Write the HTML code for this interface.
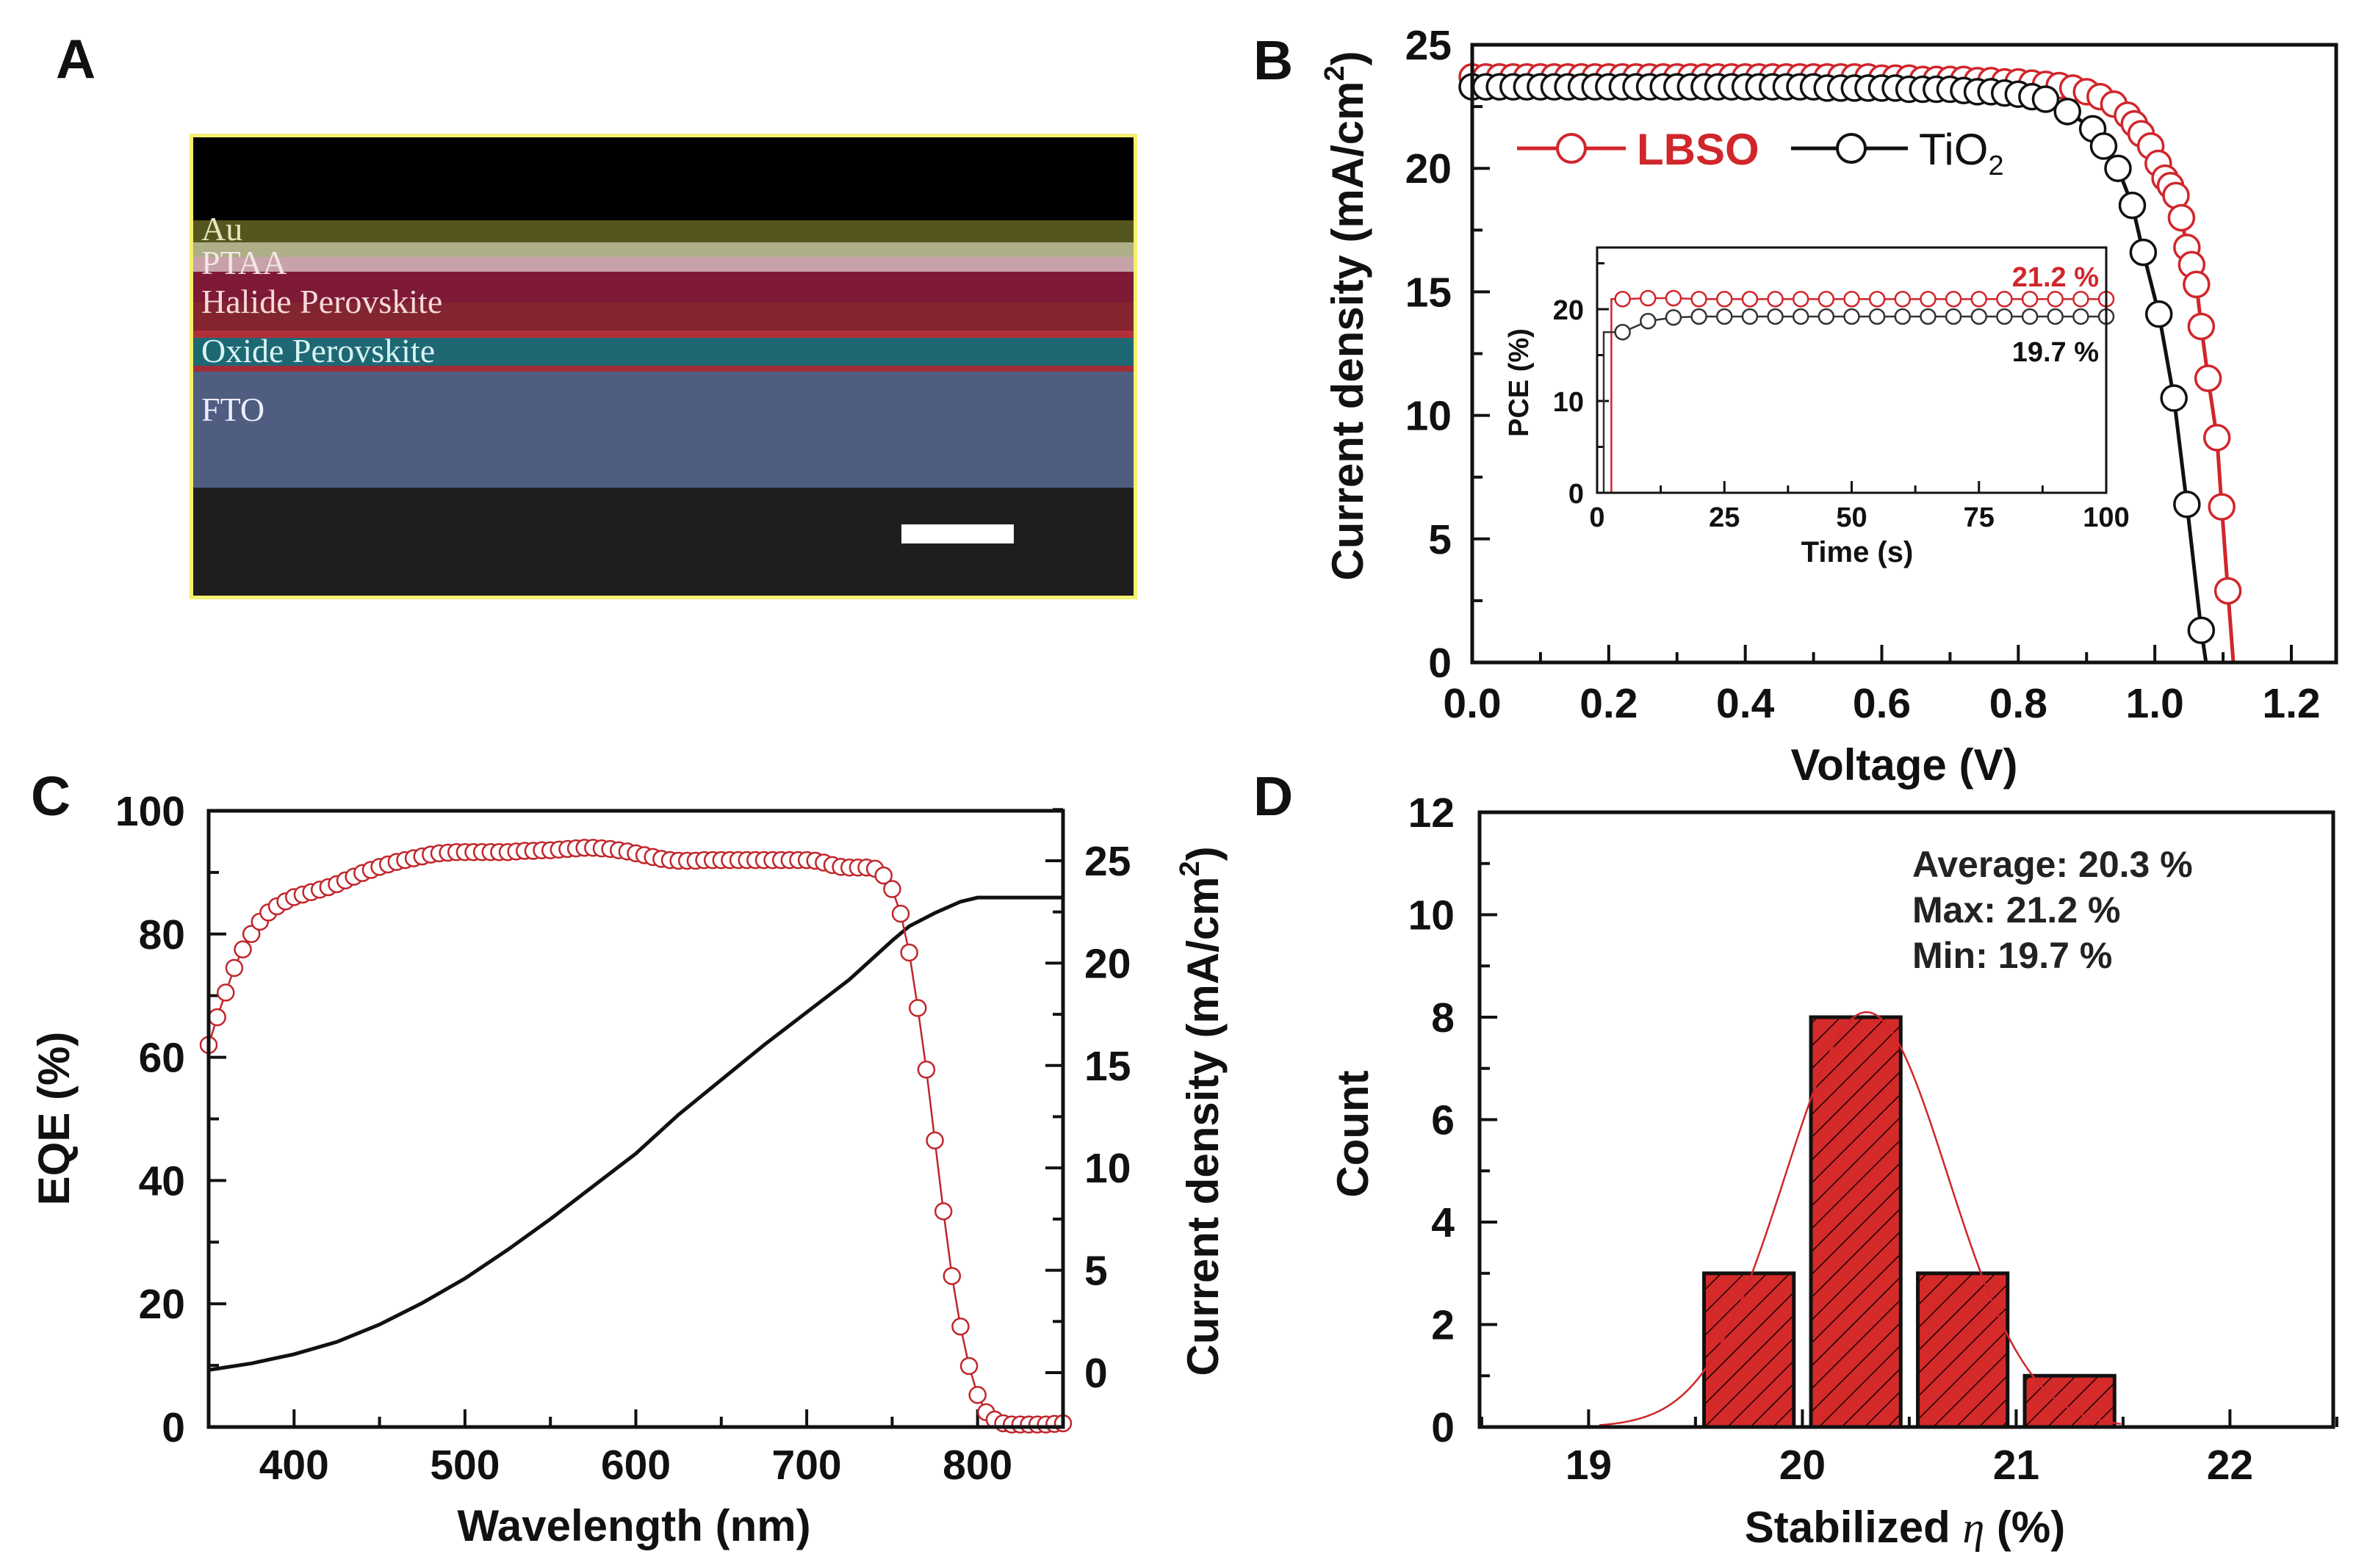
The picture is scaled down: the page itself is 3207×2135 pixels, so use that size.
<!DOCTYPE html>
<html><head><meta charset="utf-8"><style>
html,body{margin:0;padding:0;background:#fff;}
svg{display:block;font-family:"Liberation Sans",Arial,sans-serif;font-weight:bold;}
</style></head><body>
<svg id="fig" width="3207" height="2135" viewBox="0 0 3207 2135" xmlns="http://www.w3.org/2000/svg">
<defs>
<pattern id="hatch" patternUnits="userSpaceOnUse" width="22" height="22" patternTransform="rotate(45)">
<rect width="22" height="22" fill="#d42a2a"/>
<line x1="0" y1="0" x2="0" y2="22" stroke="#1a0000" stroke-width="3"/>
</pattern>
</defs>
<!-- Panel A -->
<g>
<text x="76" y="106" font-size="75" fill="#111">A</text>
<rect x="258" y="182" width="1290" height="634" fill="#f4f070"/>
<rect x="263" y="187" width="1280" height="114" fill="#000"/>
<rect x="263" y="300" width="1280" height="32" fill="#55561e"/>
<rect x="263" y="330" width="1280" height="20" fill="#aeae88"/>
<rect x="263" y="350" width="1280" height="20" fill="#c7a2a8"/>
<rect x="263" y="370" width="1280" height="82" fill="#7e1a36"/>
<rect x="263" y="412" width="1280" height="40" fill="#842830" opacity="0.8"/>
<rect x="263" y="450" width="1280" height="10" fill="#b0303a"/>
<rect x="263" y="460" width="1280" height="40" fill="#1e6874"/>
<rect x="263" y="498" width="1280" height="8" fill="#a02c3a"/>
<rect x="263" y="506" width="1280" height="160" fill="#4e5d80"/>
<rect x="263" y="664" width="1280" height="147" fill="#1f1e1e"/>
<rect x="1227" y="714" width="153" height="26" fill="#fff"/>
<g font-family="'Liberation Serif',serif" font-weight="normal" font-size="46">
<text x="274" y="327" fill="#e6e6c0">Au</text>
<text x="274" y="373" fill="#f4e4ea">PTAA</text>
<text x="274" y="426" fill="#f6dada">Halide Perovskite</text>
<text x="274" y="493" fill="#d8f4f4">Oxide Perovskite</text>
<text x="274" y="573" fill="#eef">FTO</text>
</g>
</g>
<g id="pB"></g>
<g id="pC"></g>
<g id="pD"></g>
</svg>
<script>
// ---------- Panel B data ----------
const lbsoV = [0,0.02,0.04,0.06,0.08,0.10,0.12,0.14,0.16,0.18,0.20,0.22,0.24,0.26,0.28,0.30,0.32,0.34,0.36,0.38,0.40,0.42,0.44,0.46,0.48,0.50,0.52,0.54,0.56,0.58,0.60,0.62,0.64,0.66,0.68,0.70,0.72,0.74,0.76,0.78,0.80,0.82,0.84,0.86,0.88,0.90,0.92,0.94,0.96,0.97,0.98,0.994,1.005,1.015,1.023,1.031,1.039,1.047,1.054,1.061,1.068,1.078,1.091,1.098,1.107];
const lbsoJ = [23.7,23.7,23.7,23.7,23.7,23.7,23.7,23.7,23.7,23.7,23.7,23.7,23.7,23.7,23.7,23.7,23.7,23.7,23.7,23.7,23.7,23.7,23.7,23.7,23.7,23.7,23.7,23.7,23.7,23.7,23.65,23.65,23.65,23.6,23.6,23.6,23.6,23.55,23.55,23.5,23.5,23.45,23.4,23.35,23.25,23.1,22.9,22.6,22.15,21.8,21.4,20.9,20.2,19.6,19.3,18.9,18.0,16.8,16.1,15.3,13.6,11.5,9.1,6.3,2.9];
const lbsoVoc = 1.115;
const tioV = [0,0.02,0.04,0.06,0.08,0.10,0.12,0.14,0.16,0.18,0.20,0.22,0.24,0.26,0.28,0.30,0.32,0.34,0.36,0.38,0.40,0.42,0.44,0.46,0.48,0.50,0.52,0.54,0.56,0.58,0.60,0.62,0.64,0.66,0.68,0.70,0.72,0.74,0.76,0.78,0.80,0.82,0.84,0.872,0.909,0.925,0.946,0.967,0.983,1.006,1.028,1.047,1.068];
const tioJ = [23.3,23.3,23.3,23.3,23.3,23.3,23.3,23.3,23.3,23.3,23.3,23.3,23.3,23.3,23.3,23.3,23.3,23.3,23.3,23.3,23.3,23.3,23.3,23.3,23.3,23.3,23.25,23.25,23.25,23.25,23.25,23.25,23.2,23.2,23.2,23.2,23.15,23.1,23.1,23.05,23.0,22.9,22.8,22.3,21.6,20.9,20.0,18.5,16.6,14.1,10.7,6.4,1.3];
const tioVoc = 1.075;
const bXTicks = [0,0.2,0.4,0.6,0.8,1.0,1.2];
const bXLabels = ["0.0","0.2","0.4","0.6","0.8","1.0","1.2"];
const bYTicks = [0,5,10,15,20,25];
// inset
const insetT = [5,10,15,20,25,30,35,40,45,50,55,60,65,70,75,80,85,90,95,100];
const insetLbso = [21.1,21.2,21.2,21.1,21.1,21.1,21.1,21.1,21.1,21.1,21.1,21.1,21.1,21.1,21.1,21.1,21.1,21.1,21.1,21.1];
const insetTio = [17.5,18.7,19.1,19.2,19.2,19.2,19.2,19.2,19.2,19.2,19.2,19.2,19.2,19.2,19.2,19.2,19.2,19.2,19.2,19.2];
const insetLbsoStart = 2.8;
const insetTioStart = 1.3;
const insetXTicks = [0,25,50,75,100];
const insetYTicks = [0,10,20];
// ---------- Panel C data ----------
const eqeNm = [350,355,360,365,370,375,380,385,390,395,400,405,410,415,420,425,430,435,440,445,450,455,460,465,470,475,480,485,490,495,500,505,510,515,520,525,530,535,540,545,550,555,560,565,570,575,580,585,590,595,600,605,610,615,620,625,630,635,640,645,650,655,660,665,670,675,680,685,690,695,700,705,710,715,720,725,730,735,740,745,750,755,760,765,770,775,780,785,790,795,800,805,810,815,820,825,830,835,840,845,850];
const eqeVal = [62,66.5,70.5,74.5,77.5,80,82,83.5,84.5,85.3,86,86.4,86.8,87.2,87.6,88.1,88.7,89.3,89.9,90.4,90.9,91.3,91.7,92,92.3,92.6,92.9,93.1,93.2,93.3,93.3,93.3,93.3,93.3,93.3,93.3,93.4,93.5,93.5,93.6,93.6,93.7,93.8,93.9,94,94,93.9,93.8,93.6,93.4,93.1,92.8,92.5,92.2,92,91.9,91.9,91.9,92,92,92,92,92,92,92,92,92,92,92,92,92,91.9,91.6,91.2,90.9,90.8,90.8,90.8,90.6,89.5,87.3,83.3,77,68,58,46.5,35,24.5,16.3,9.9,5.2,2.4,1.2,0.6,0.4,0.4,0.4,0.4,0.4,0.5,0.6];
const jscNm = [350,375,400,425,450,475,500,525,550,575,600,625,650,675,700,725,750,760,775,790,800,850];
const jscVal = [0.13,0.45,0.9,1.5,2.35,3.4,4.6,6.0,7.5,9.1,10.7,12.6,14.3,16.0,17.6,19.2,21.1,21.8,22.45,23.0,23.2,23.2];
const cXTicks = [400,500,600,700,800];
const cYTicks = [0,20,40,60,80,100];
const cY2Ticks = [0,5,10,15,20,25];
// ---------- Panel D data ----------
const binCenters = [19.75,20.25,20.75,21.25];
const binCounts = [3,8,3,1];
const binWidth = 0.42;
const fitMean = 20.3;
const fitSigma = 0.38;
const fitAmp = 8.1;
const dXTicks = [19,20,21,22];
const dYTicks = [0,2,4,6,8,10,12];
const statsLines = ["Average: 20.3 %","Max: 21.2 %","Min: 19.7 %"];

const NS = "http://www.w3.org/2000/svg";
function mk(tag, attrs, parent){const e=document.createElementNS(NS,tag);for(const k in attrs)e.setAttribute(k,attrs[k]);parent.appendChild(e);return e;}
function txt(s, attrs, parent){const e=mk('text',attrs,parent);e.textContent=s;return e;}

// ===== Panel B =====
const gB = document.getElementById('pB');
const xB = v => 2004 + v*(3119-2004)/1.2;
const yB = j => 902 - j*(841/25);
let t;
t = txt("B",{x:1706,y:108,"font-size":75,fill:"#111"},gB);


for(let v=0; v<=1.25; v+=0.1){const maj=Math.abs(v/0.2-Math.round(v/0.2))<0.01;
 const l=mk('line',{x1:xB(v),x2:xB(v),y1:902,y2:902-(maj?24:14),stroke:"#111","stroke-width":4},gB);
 
 }
for(let j=0;j<=25;j+=2.5){const maj=(j%5===0);
 const l=mk('line',{x1:2004,x2:2004+(maj?24:14),y1:yB(j),y2:yB(j),stroke:"#111","stroke-width":4},gB);
 
 }
bXTicks.forEach((v,i)=>{const e=txt(bXLabels[i],{x:xB(v),y:977,"font-size":57,"text-anchor":"middle",fill:"#111"},gB);
 
 });
bYTicks.forEach(v=>{const e=txt(String(v),{x:1976,y:yB(v)+20,"font-size":57,"text-anchor":"end",fill:"#111"},gB);
 
 });
t=txt("Voltage (V)",{x:2592,y:1062,"font-size":60,"text-anchor":"middle",fill:"#111"},gB);


t=mk('text',{transform:"translate(1855,430) rotate(-90)","font-size":60,"text-anchor":"middle",fill:"#111"},gB);
t.innerHTML='Current density (mA/cm<tspan dy="-26" font-size="38">2</tspan><tspan dy="26">)</tspan>';


function curve(V,J,voc,color,r,parentName){
 const g=mk('g',{},gB);
 
 
 let d=V.map((v,i)=>(i?'L':'M')+xB(v)+','+yB(J[i])).join(' ')+' L'+xB(voc)+','+yB(0);
 const p=mk('path',{d:d,fill:"none",stroke:color,"stroke-width":5},g);
 
 
 V.forEach((v,i)=>{const c=mk('circle',{cx:xB(v),cy:yB(J[i]),r:r,fill:"#fff",stroke:color,"stroke-width":3.5},g);
  
  });
}
curve(lbsoV,lbsoJ,lbsoVoc,"#d0262c",17,'lbso-series');
curve(tioV,tioJ,tioVoc,"#111",17,'tio2-series');
t=mk('rect',{x:2004,y:61,width:1176,height:841,fill:"none",stroke:"#111","stroke-width":5},gB);


// legend
const lg=mk('g',{},gB);


mk('line',{x1:2065,x2:2213,y1:202,y2:202,stroke:"#d0262c","stroke-width":5},lg);
mk('circle',{cx:2139,cy:202,r:19,fill:"#fff",stroke:"#d0262c","stroke-width":4},lg);
t=txt("LBSO",{x:2228,y:224,"font-size":60,fill:"#d0262c"},lg);


mk('line',{x1:2438,x2:2597,y1:202,y2:202,stroke:"#111","stroke-width":5},lg);
mk('circle',{cx:2520,cy:202,r:19,fill:"#fff",stroke:"#111","stroke-width":4},lg);
t=mk('text',{x:2612,y:224,"font-size":60,fill:"#111","font-weight":"normal"},lg);
t.innerHTML='TiO<tspan dy="14" font-size="38">2</tspan>';


// inset
const gI=mk('g',{},gB);


const xI = s => 2174 + s*(2867-2174)/100;
const yI = p => 671 - p*(250/20);
mk('rect',{x:2174,y:337,width:693,height:334,fill:"#fff"},gI);
for(let s=0;s<=100;s+=12.5){const maj=(s%25===0);
 const l=mk('line',{x1:xI(s),x2:xI(s),y1:671,y2:671-(maj?16:10),stroke:"#111","stroke-width":3},gI);
 
 }
for(let p=0;p<=25;p+=5){const maj=(p%10===0);
 const l=mk('line',{x1:2174,x2:2174+(maj?16:10),y1:yI(p),y2:yI(p),stroke:"#111","stroke-width":3},gI);
 
 }
insetXTicks.forEach(v=>{const e=txt(String(v),{x:xI(v),y:717,"font-size":38,"text-anchor":"middle",fill:"#111"},gI);
 
 });
insetYTicks.forEach(v=>{const e=txt(String(v),{x:2156,y:yI(v)+14,"font-size":38,"text-anchor":"end",fill:"#111"},gI);
 
 });
t=txt("Time (s)",{x:2528,y:765,"font-size":40,"text-anchor":"middle",fill:"#111"},gI);


t=txt("PCE (%)",{transform:"translate(2080,521) rotate(-90)","font-size":38,"text-anchor":"middle",fill:"#111"},gI);


function insetSeries(T,P,start,color,name){
 let d='M'+xI(0)+','+yI(0)+' L'+xI(start)+','+yI(0)+' L'+xI(start)+','+yI(P[0])+' '+T.map((s,i)=>'L'+xI(s)+','+yI(P[i])).join(' ');
 const p=mk('path',{d:d,fill:"none",stroke:color,"stroke-width":2.5},gI);
 
 
 T.forEach((s,i)=>{const c=mk('circle',{cx:xI(s),cy:yI(P[i]),r:10,fill:"#fff",stroke:color,"stroke-width":2.5},gI);
  
  });
}
insetSeries(insetT,insetLbso,insetLbsoStart,"#d0262c",'inset-lbso');
insetSeries(insetT,insetTio,insetTioStart,"#333",'inset-tio2');
mk('rect',{x:2174,y:337,width:693,height:334,fill:"none",stroke:"#111","stroke-width":3},gI);
t=txt("21.2 %",{x:2857,y:390,"font-size":38,"text-anchor":"end",fill:"#d0262c"},gI);


t=txt("19.7 %",{x:2857,y:492,"font-size":38,"text-anchor":"end",fill:"#111"},gI);



// ===== Panel C =====
const gC=document.getElementById('pC');
const xC = nm => 284 + (nm-350)*(1163/500);
const yC = e => 1943 - e*8.39;
const yC2 = j => 1869 - j*27.88;
t=txt("C",{x:42,y:1110,"font-size":75,fill:"#111"},gC);


for(let nm=350;nm<=850;nm+=50){const maj=(nm%100===0);
 const l=mk('line',{x1:xC(nm),x2:xC(nm),y1:1943,y2:1943-(maj?24:14),stroke:"#111","stroke-width":4},gC);
 
 }
for(let e=0;e<=100;e+=10){const maj=(e%20===0);
 const l=mk('line',{x1:284,x2:284+(maj?24:14),y1:yC(e),y2:yC(e),stroke:"#111","stroke-width":4},gC);
 
 }
for(let j=-2.5;j<=27.5;j+=2.5){const maj=(j%5===0);
 const l=mk('line',{x1:1447,x2:1447-(maj?24:14),y1:yC2(j),y2:yC2(j),stroke:"#111","stroke-width":4},gC);
 
 }
cXTicks.forEach(v=>{const e=txt(String(v),{x:xC(v),y:2014,"font-size":57,"text-anchor":"middle",fill:"#111"},gC);
 
 });
cYTicks.forEach(v=>{const e=txt(String(v),{x:252,y:yC(v)+20,"font-size":57,"text-anchor":"end",fill:"#111"},gC);
 
 });
cY2Ticks.forEach(v=>{const e=txt(String(v),{x:1476,y:yC2(v)+20,"font-size":57,"text-anchor":"start",fill:"#111"},gC);
 
 });
t=txt("Wavelength (nm)",{x:863,y:2098,"font-size":60,"text-anchor":"middle",fill:"#111"},gC);


t=txt("EQE (%)",{transform:"translate(94,1523) rotate(-90)","font-size":60,"text-anchor":"middle",fill:"#111"},gC);


t=mk('text',{transform:"translate(1658,1513) rotate(-90)","font-size":60,"text-anchor":"middle",fill:"#111"},gC);
t.innerHTML='Current density (mA/cm<tspan dy="-26" font-size="38">2</tspan><tspan dy="26">)</tspan>';


{
 const p=mk('path',{d:jscNm.map((n,i)=>(i?'L':'M')+xC(n)+','+yC2(jscVal[i])).join(' '),fill:"none",stroke:"#111","stroke-width":5},gC);
 
 
 const g=mk('g',{},gC);
 
 
 const q=mk('path',{d:eqeNm.map((n,i)=>(i?'L':'M')+xC(n)+','+yC(eqeVal[i])).join(' '),fill:"none",stroke:"#c0262c","stroke-width":2.5},g);
 
 
 eqeNm.forEach((n,i)=>{const c=mk('circle',{cx:xC(n),cy:yC(eqeVal[i]),r:11,fill:"#fff",stroke:"#c0262c","stroke-width":2.5},g);
  
  });
}
t=mk('rect',{x:284,y:1104,width:1163,height:839,fill:"none",stroke:"#111","stroke-width":5},gC);



// ===== Panel D =====
const gD=document.getElementById('pD');
const xD = v => 2014 + (v-18.49)*291.0;
const yD = c => 1943 - c*(837/12);
t=txt("D",{x:1706,y:1110,"font-size":75,fill:"#111"},gD);


for(let v=18.5;v<=22.5;v+=0.5){const maj=(Math.abs(v-Math.round(v))<0.01);
 const l=mk('line',{x1:xD(v),x2:xD(v),y1:1943,y2:1943-(maj?24:14),stroke:"#111","stroke-width":4},gD);
 
 }
for(let c=0;c<=12;c+=1){const maj=(c%2===0);
 const l=mk('line',{x1:2014,x2:2014+(maj?24:14),y1:yD(c),y2:yD(c),stroke:"#111","stroke-width":4},gD);
 
 }
dXTicks.forEach(v=>{const e=txt(String(v),{x:xD(v),y:2014,"font-size":57,"text-anchor":"middle",fill:"#111"},gD);
 
 });
dYTicks.forEach(v=>{const e=txt(String(v),{x:1980,y:yD(v)+20,"font-size":57,"text-anchor":"end",fill:"#111"},gD);
 
 });
t=mk('text',{x:2593,y:2100,"font-size":60,"text-anchor":"middle",fill:"#111"},gD);
t.innerHTML='Stabilized <tspan font-family="\'Liberation Serif\',serif" font-style="italic" font-weight="normal">η</tspan> (%)';


t=txt("Count",{transform:"translate(1862,1544) rotate(-90)","font-size":60,"text-anchor":"middle",fill:"#111"},gD);


binCenters.forEach((c,i)=>{
 const b=mk('rect',{x:xD(c-binWidth/2),y:yD(binCounts[i]),width:xD(c+binWidth/2)-xD(c-binWidth/2),height:yD(0)-yD(binCounts[i]),fill:"url(#hatch)",stroke:"#111","stroke-width":5},gD);
 
 
});
{
 let d='';
 for(let v=19.05; v<=21.5; v+=0.02){const c=fitAmp*Math.exp(-Math.pow(v-fitMean,2)/(2*fitSigma*fitSigma));d+=(d?'L':'M')+xD(v)+','+yD(c)+' ';}
 const p=mk('path',{d:d,fill:"none",stroke:"#d0262c","stroke-width":2.5},gD);
 
 
}
statsLines.forEach((s,i)=>{const e=txt(s,{x:2603,y:1194+i*62,"font-size":50,fill:"#222"},gD);
 
 });
t=mk('rect',{x:2014,y:1106,width:1162,height:837,fill:"none",stroke:"#111","stroke-width":5},gD);


</script>
</body></html>
